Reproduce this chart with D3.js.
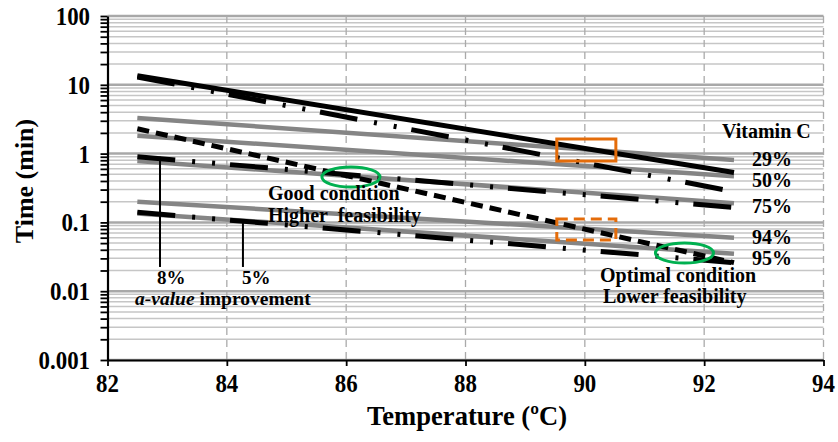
<!DOCTYPE html>
<html>
<head>
<meta charset="utf-8">
<script src="https://cdn.jsdelivr.net/npm/d3@7/dist/d3.min.js"></script>
<style>
  html, body { margin: 0; padding: 0; background: #fff; }
</style>
</head>
<body>
<div id="chart"></div>
<script>
// Temperature span of every curve (ºC)
const tempRange = [82.5, 92.5];

// Gray curves : original process, labelled by vitamin C retention
const grey29 = [3.3, 0.81];
const grey50 = [1.82, 0.47];
const grey75 = [0.78, 0.19];
const grey94 = [0.2, 0.06];
const grey95 = [0.135, 0.035];

// Black curves : improved a-value
const blackSolid = [13.5, 0.53];
const blackDashDotTop = [13.0, 0.28];
const blackDashed = [2.3, 0.026];
const blackDashDotMid = [0.9, 0.165];
const blackDashDotLow = [0.14, 0.026];

const vitaminLabels = ["29%", "50%", "75%", "94%", "95%"];
const xTicks = [82, 84, 86, 88, 90, 92, 94];
const yMajor = [0.001, 0.01, 0.1, 1, 10, 100];
const yTickLabels = ["0.001", "0.01", "0.1", "1", "10", "100"];

// annotations (data units)
const goodEllipse = [86.08, 0.457];
const optimalEllipse = [91.67, 0.0359];
const solidBox = [89.53, 90.52, 1.63, 0.78];
const dashedBox = [89.53, 90.52, 0.112, 0.0555];
const pointerLines = [[82.88, 0.9, 0.0225], [84.27, 0.108, 0.0225]];

const W = 838, H = 442;
const FONT = "'Liberation Serif', 'Times New Roman', Times, serif";
const x = d3.scaleLinear().domain([82, 94]).range([107.5, 823.5]);
const y = d3.scaleLog().domain([0.001, 100]).range([360, 16]);

const svg = d3.select("#chart").append("svg")
    .attr("width", W)
    .attr("height", H)
    .attr("font-family", FONT);

// horizontal gridlines
const minorTicks = y.ticks();
svg.append("g").selectAll("line")
    .data(minorTicks)
    .enter()
    .append("line")
    .attr("x1", x(82)).attr("x2", x(94))
    .attr("y1", d => y(d)).attr("y2", d => y(d))
    .attr("stroke", d => yMajor.includes(d) ? "#a8a8a8" : "#c6c6c6")
    .attr("stroke-width", d => yMajor.includes(d) ? 2.5 : 1.5);

// vertical dashed gridlines
svg.append("g").selectAll("line")
    .data(xTicks.slice(1))
    .enter()
    .append("line")
    .attr("x1", d => x(d)).attr("x2", d => x(d))
    .attr("y1", y(100)).attr("y2", y(0.001))
    .attr("stroke", "#aaa")
    .attr("stroke-width", 1.3)
    .attr("stroke-dasharray", "7,5");

const line = d3.line().x(d => x(d[0])).y(d => y(d[1]));
const toPts = vals => tempRange.map((t, i) => [t, vals[i]]);

// gray series
[grey29, grey50, grey75, grey94, grey95].forEach(vals => {
    svg.append("path")
        .attr("d", line(toPts(vals)))
        .attr("fill", "none")
        .attr("stroke", "#858585")
        .attr("stroke-width", 4.5);
});

// black series
const LDD = "38,17,3,17,3,15";
const blackSeries = [
    {vals: blackSolid, dash: null},
    {vals: blackDashDotTop, dash: LDD},
    {vals: blackDashed, dash: "12,7"},
    {vals: blackDashDotMid, dash: LDD},
    {vals: blackDashDotLow, dash: LDD}
];
blackSeries.forEach(s => {
    svg.append("path")
        .attr("d", line(toPts(s.vals)))
        .attr("fill", "none")
        .attr("stroke", "#000")
        .attr("stroke-width", 5)
        .attr("stroke-dasharray", s.dash);
});

// axes
const yAxis = svg.append("g")
    .attr("transform", `translate(${x(82)},0)`)
    .call(d3.axisLeft(y).tickValues(minorTicks).tickSize(7).tickSizeOuter(0).tickFormat(""));
const xAxis = svg.append("g")
    .attr("transform", `translate(0,${y(0.001)})`)
    .call(d3.axisBottom(x).tickValues(xTicks).tickSize(6).tickSizeOuter(0).tickFormat(""));
[yAxis, xAxis].forEach(a => {
    a.select(".domain").attr("stroke", "#000").attr("stroke-width", 2.2);
    a.selectAll(".tick line").attr("stroke", "#000").attr("stroke-width", 1.8);
});

function label(sel, size) {
    return sel.style("font-family", FONT)
        .style("font-weight", "bold")
        .style("font-size", size + "px")
        .attr("fill", "#000");
}

// tick labels (the axis text in the picture is slightly condensed)
const SQUEEZE = 0.88;
label(svg.append("g").selectAll("text")
    .data(yMajor)
    .enter()
    .append("text")
    .attr("transform", d => `translate(90,${y(d) + 9}) scale(${SQUEEZE},1)`)
    .attr("text-anchor", "end"), 26)
    .text((d, i) => yTickLabels[i]);
label(svg.append("g").selectAll("text")
    .data(xTicks)
    .enter()
    .append("text")
    .attr("transform", d => `translate(${x(d)},392) scale(${SQUEEZE},1)`)
    .attr("text-anchor", "middle"), 26)
    .text(d => d);

// axis titles
label(svg.append("text")
    .attr("transform", "translate(467,425) scale(0.95,1)")
    .attr("text-anchor", "middle"), 28)
    .text("Temperature (ºC)");
label(svg.append("text")
    .attr("transform", "translate(33,181) rotate(-90)")
    .attr("text-anchor", "middle"), 26)
    .text("Time (min)");

// right-hand labels
label(svg.append("text")
    .attr("x", 722).attr("y", 138), 20)
    .text("Vitamin C");
const labelY = [166, 187, 213, 244, 265];
label(svg.append("g").selectAll("text")
    .data(vitaminLabels)
    .enter()
    .append("text")
    .attr("x", 752)
    .attr("y", (d, i) => labelY[i]), 20)
    .text(d => d);

// annotations
const GREEN = "#00b050", ORANGE = "#e46c0a";
[goodEllipse, optimalEllipse].forEach(e => {
    svg.append("ellipse")
        .attr("cx", x(e[0])).attr("cy", y(e[1]))
        .attr("rx", 29).attr("ry", 10)
        .attr("fill", "none")
        .attr("stroke", GREEN)
        .attr("stroke-width", 3);
});
[[solidBox, null], [dashedBox, "11,6"]].forEach(([b, dash]) => {
    svg.append("rect")
        .attr("x", x(b[0])).attr("y", y(b[2]))
        .attr("width", x(b[1]) - x(b[0]))
        .attr("height", y(b[3]) - y(b[2]))
        .attr("fill", "none")
        .attr("stroke", ORANGE)
        .attr("stroke-width", 3)
        .attr("stroke-dasharray", dash);
});
pointerLines.forEach(p => {
    svg.append("line")
        .attr("x1", x(p[0])).attr("x2", x(p[0]))
        .attr("y1", y(p[1])).attr("y2", y(p[2]))
        .attr("stroke", "#000")
        .attr("stroke-width", 2);
});

function note(tx, ty, txt, size) {
    return label(svg.append("text")
        .attr("x", tx).attr("y", ty)
        .style("white-space", "pre"), size)
        .text(txt);
}
note(268, 200, "Good condition", 20);
note(268, 222, "Higher  feasibility", 20);
note(600, 282, "Optimal condition", 20);
note(603, 303, "Lower feasibility", 20);
note(157, 284, "8%", 19);
note(242, 284, "5%", 19);
const imp = note(135, 305, "", 19.5);
imp.append("tspan").style("font-style", "italic").text("a-value");
imp.append("tspan").text(" improvement");
</script>
</body>
</html>
